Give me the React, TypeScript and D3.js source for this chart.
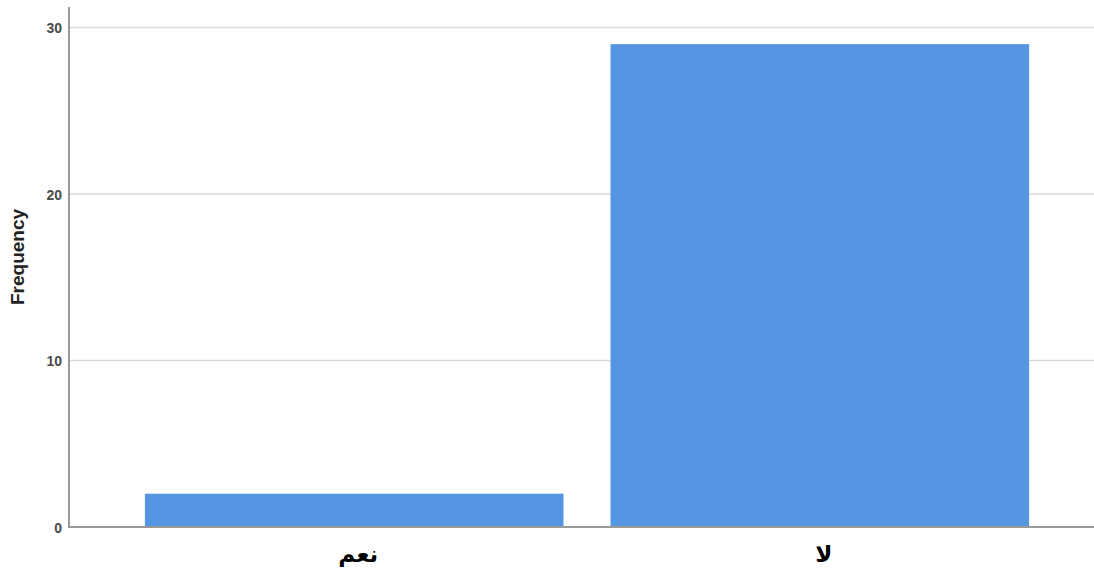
import React from "react";
import * as d3 from "d3";

const categories = ["نعم", "لا"];
const frequencies = [2, 29];
const yTicks = [0, 10, 20, 30];

const W = 1094;
const H = 570;

export default function App() {
  const x = d3
    .scaleBand<string>()
    .domain(categories)
    .range([69, 1105])
    .paddingInner(0.101)
    .paddingOuter(0.163);
  const y = d3.scaleLinear().domain([0, 30]).range([527, 27.5]);

  return (
    <svg
      width={W}
      height={H}
      style={{ position: "absolute", left: 0, top: 0, background: "#fff" }}
    >
      {yTicks.map((t) => (
        <g key={t}>
          {t > 0 && (
            <line x1={69} x2={W} y1={y(t)} y2={y(t)} stroke="#d9d9d9" strokeWidth={1.5} />
          )}
          <text
            x={62}
            y={y(t) + 1}
            dy="0.35em"
            textAnchor="end"
            fontFamily="Arial, 'Liberation Sans', sans-serif"
            fontWeight="bold"
            fontSize={14}
            fill="#4a4a4a"
          >
            {t}
          </text>
        </g>
      ))}
      {categories.map((c, i) => (
        <rect
          key={c}
          x={x(c)}
          y={y(frequencies[i])}
          width={x.bandwidth()}
          height={y(0) - y(frequencies[i])}
          fill="#5596E3"
        />
      ))}
      <line x1={69} x2={69} y1={7} y2={527} stroke="#999" strokeWidth={2} />
      <line x1={68} x2={W} y1={527} y2={527} stroke="#999" strokeWidth={2} />
      {categories.map((c) => (
        <text
          key={c}
          x={(x(c) as number) + x.bandwidth() / 2 + 4}
          y={562}
          textAnchor="middle"
          direction="rtl"
          fontFamily="'DejaVu Sans', sans-serif"
          fontWeight="bold"
          fontSize={23}
          fill="#000"
        >
          {c}
        </text>
      ))}
      <text
        transform={`translate(24, 257) rotate(-90)`}
        textAnchor="middle"
        fontFamily="Arial, 'Liberation Sans', sans-serif"
        fontWeight="bold"
        fontSize={19}
        fill="#222"
      >
        Frequency
      </text>
    </svg>
  );
}
